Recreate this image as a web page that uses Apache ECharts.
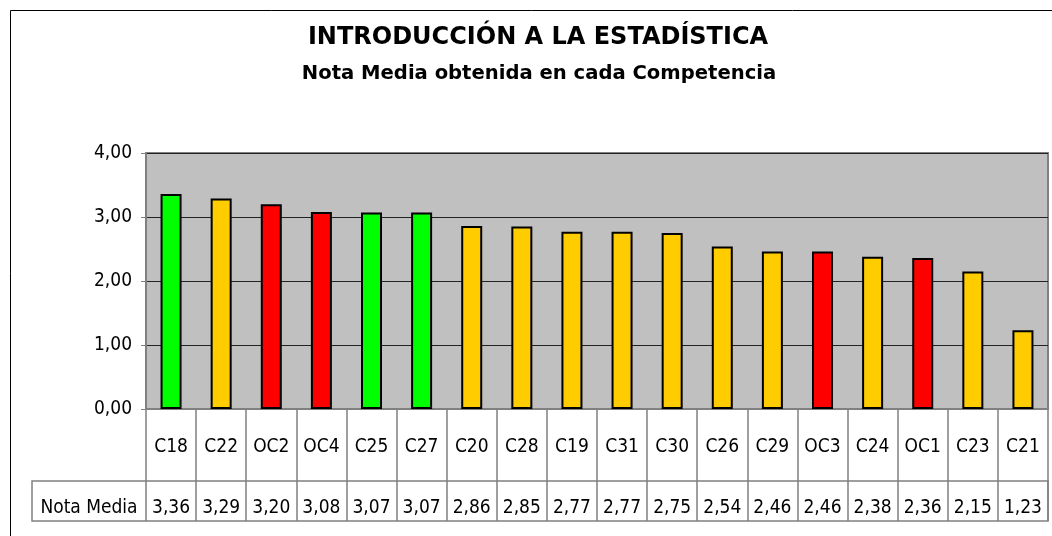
<!DOCTYPE html>
<html>
<head>
<meta charset="utf-8">
<script src="https://cdn.jsdelivr.net/npm/echarts@6/dist/echarts.min.js"></script>
<style>
  html, body { margin: 0; padding: 0; background: #fff; }
  #chart { width: 1052px; height: 536px; }
</style>
</head>
<body>
<div id="chart"></div>
<script>
// competencias, ordenadas por nota media
var competencias = ['C18', 'C22', 'OC2', 'OC4', 'C25', 'C27', 'C20', 'C28', 'C19', 'C31', 'C30', 'C26', 'C29', 'OC3', 'C24', 'OC1', 'C23', 'C21'];
var notaMedia = [3.36, 3.29, 3.20, 3.08, 3.07, 3.07, 2.86, 2.85, 2.77, 2.77, 2.75, 2.54, 2.46, 2.46, 2.38, 2.36, 2.15, 1.23];
// grupo de cada competencia (verde / amarillo / rojo)
var grupo = ['verde', 'amarillo', 'rojo', 'rojo', 'verde', 'verde', 'amarillo', 'amarillo', 'amarillo', 'amarillo', 'amarillo', 'amarillo', 'amarillo', 'rojo', 'amarillo', 'rojo', 'amarillo', 'amarillo'];
var yTicks = [0, 1, 2, 3, 4];

var colores = { verde: '#00ff00', amarillo: '#ffcc00', rojo: '#ff0000' };
var fuente = '"DejaVu Sans Condensed", "DejaVu Sans", sans-serif';
var fuenteTitulo = '"DejaVu Sans", sans-serif';

function coma(v) {
  return v.toFixed(2).replace('.', ',');
}

var myChart = echarts.init(document.getElementById('chart'));

var option = {
  backgroundColor: '#fff',
  animation: false,
  textStyle: { fontFamily: fuente },
  title: [
    {
      text: 'INTRODUCCIÓN A LA ESTADÍSTICA',
      left: 533,
      top: 21,
      textAlign: 'center',
      textStyle: { fontFamily: fuenteTitulo, fontWeight: 'bold', fontSize: 24, color: '#000' }
    },
    {
      text: 'Nota Media obtenida en cada Competencia',
      left: 534,
      top: 59,
      textAlign: 'center',
      textStyle: { fontFamily: fuenteTitulo, fontWeight: 'bold', fontSize: 19.6, color: '#000' }
    }
  ],
  grid: {
    left: 146,
    right: 4,
    top: 153,
    bottom: 127,
    show: true,
    backgroundColor: '#c0c0c0',
    borderColor: '#808080',
    borderWidth: 2
  },
  xAxis: [
    {
      type: 'category',
      data: competencias,
      position: 'bottom',
      axisLine: { show: true, lineStyle: { color: '#808080', width: 2 } },
      axisTick: { show: true, length: 112, lineStyle: { color: '#808080', width: 1.5 } },
      axisLabel: { margin: 29, fontSize: 19, color: '#000', fontFamily: fuente, interval: 0 }
    },
    {
      type: 'category',
      data: notaMedia.map(coma),
      position: 'bottom',
      offset: 72,
      axisLine: { show: false },
      axisTick: { show: false },
      axisLabel: { margin: 18, fontSize: 19, color: '#000', fontFamily: fuente, interval: 0 }
    }
  ],
  yAxis: {
    type: 'value',
    min: yTicks[0],
    max: yTicks[yTicks.length - 1],
    interval: 1,
    axisLine: { show: true, lineStyle: { color: '#808080', width: 2 } },
    axisTick: { show: true, inside: false, length: 5, lineStyle: { color: '#808080' } },
    axisLabel: { margin: 14, fontSize: 19, color: '#000', fontFamily: fuente, formatter: coma },
    splitLine: { show: true, lineStyle: { color: '#222', width: 1 } }
  },
  series: [
    {
      name: 'Nota Media',
      type: 'bar',
      barWidth: 21,
      data: notaMedia.map(function (v, i) {
        return { value: v, itemStyle: { color: colores[grupo[i]] } };
      }),
      itemStyle: { borderColor: '#000', borderWidth: 2 }
    }
  ],
  graphic: [
    {
      type: 'rect',
      silent: true,
      shape: { x: 10.5, y: 10.5, width: 1100, height: 600 },
      style: { fill: 'none', stroke: '#000', lineWidth: 1 }
    },
    {
      type: 'rect',
      silent: true,
      shape: { x: 32, y: 481, width: 1016, height: 40 },
      style: { fill: 'none', stroke: '#808080', lineWidth: 1.5 }
    },
    {
      type: 'text',
      silent: true,
      x: 89,
      y: 508,
      style: {
        text: 'Nota Media',
        fontFamily: fuente,
        fontSize: 19,
        fill: '#000',
        align: 'center',
        verticalAlign: 'middle'
      }
    }
  ]
};

myChart.setOption(option);
</script>
</body>
</html>
